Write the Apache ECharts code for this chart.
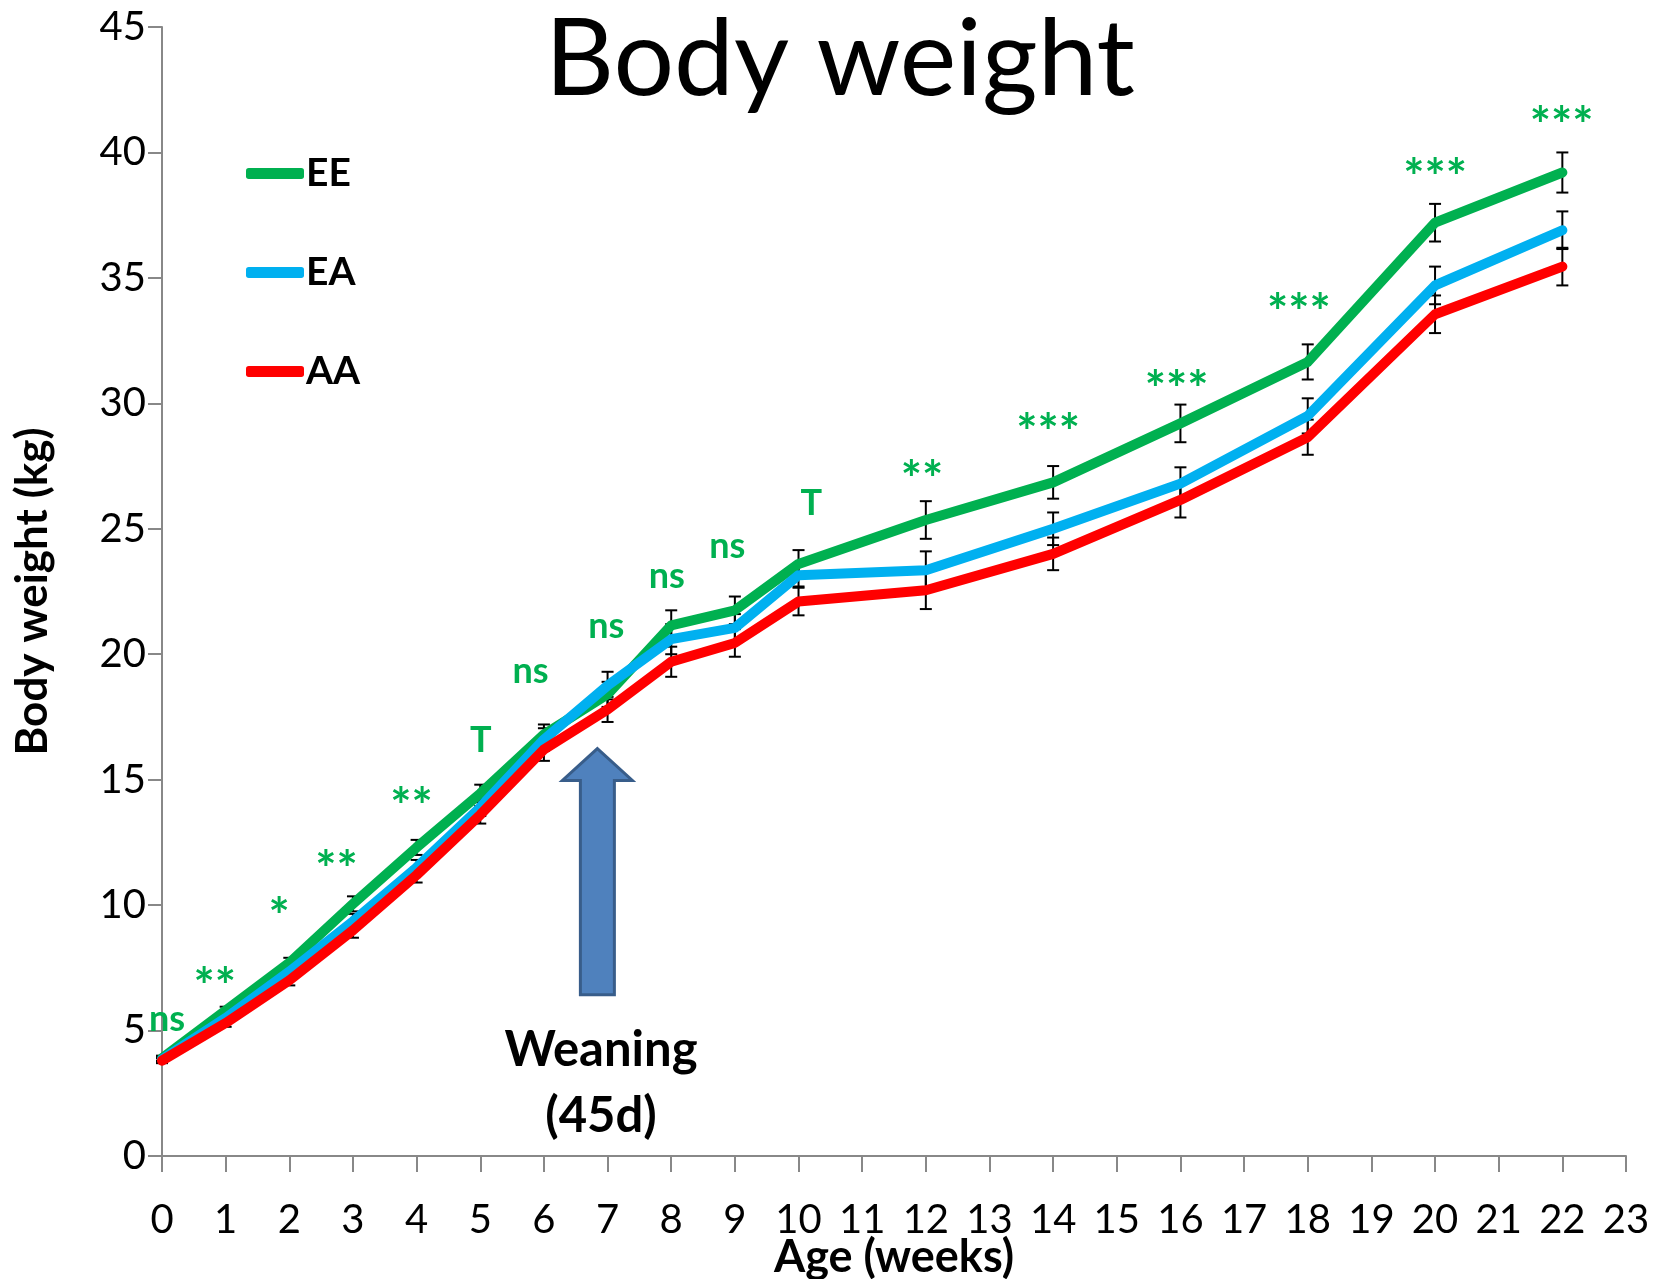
<!DOCTYPE html>
<html>
<head>
<meta charset="utf-8">
<script src="https://cdn.jsdelivr.net/npm/echarts@6/dist/echarts.min.js"></script>
<style>
  html, body { margin: 0; padding: 0; background: #fff; }
  #chart { width: 1665px; height: 1279px; }
</style>
</head>
<body>
<div id="chart"></div>
<script>
// age in weeks
const weeks = [0, 1, 2, 3, 4, 5, 6, 7, 8, 9, 10, 12, 14, 16, 18, 20, 22];

// mean body weight (kg)
const eeMean = [3.9, 5.8, 7.7, 10.05, 12.3, 14.45, 16.8, 18.4, 21.15, 21.75, 23.6, 25.35, 26.85, 29.2, 31.65, 37.2, 39.2];
const eaMean = [3.85, 5.5, 7.35, 9.35, 11.5, 13.9, 16.6, 18.75, 20.6, 21.05, 23.15, 23.35, 25.0, 26.8, 29.5, 34.7, 36.9];
const aaMean = [3.8, 5.3, 7.0, 9.0, 11.2, 13.6, 16.2, 17.8, 19.7, 20.45, 22.1, 22.55, 24.0, 26.15, 28.65, 33.55, 35.45];

// standard errors
const eeErr = [0.1, 0.15, 0.2, 0.3, 0.3, 0.35, 0.4, 0.5, 0.6, 0.55, 0.55, 0.75, 0.65, 0.75, 0.7, 0.75, 0.8];
const eaErr = [0.1, 0.15, 0.2, 0.3, 0.3, 0.35, 0.45, 0.55, 0.6, 0.55, 0.45, 0.75, 0.65, 0.65, 0.7, 0.75, 0.75];
const aaErr = [0.1, 0.15, 0.2, 0.3, 0.3, 0.35, 0.45, 0.5, 0.6, 0.55, 0.55, 0.75, 0.65, 0.7, 0.7, 0.75, 0.75];

// significance marks (x, y in data units, text)
const sigX = [0.08, 0.83, 1.84, 2.74, 3.92, 5.01, 5.79, 6.98, 7.93, 8.88, 10.2, 11.94, 13.92, 15.94, 17.86, 20.0, 21.99];
const sigY = [5.46, 7.23, 10.03, 11.89, 14.42, 16.58, 19.33, 21.11, 23.1, 24.28, 26.0, 27.45, 29.31, 31.05, 34.1, 39.5, 41.54];
const sigText = ['ns', '**', '*', '**', '**', 'T', 'ns', 'ns', 'ns', 'ns', 'T', '**', '***', '***', '***', '***', '***'];

// weaning arrow (data units)
const arrowX = 6.84, arrowTip = 16.24, arrowShoulder = 14.97, arrowBase = 6.43;

const FONT = 'Lato, "Open Sans", sans-serif';
const colors = { EE: '#00B050', EA: '#00B0F0', AA: '#FF0000' };

function lineSeries(name, mean) {
  return {
    name: name,
    type: 'line',
    data: weeks.map((w, i) => [w, mean[i]]),
    symbol: 'none',
    z: 3,
    lineStyle: { color: colors[name], width: 10, cap: 'round', join: 'round' },
    itemStyle: { color: colors[name] }
  };
}

function errorSeries(mean, err) {
  return {
    type: 'custom',
    z: 2,
    silent: true,
    data: weeks.map((w, i) => [w, mean[i] - err[i], mean[i] + err[i]]),
    renderItem: function (params, api) {
      const lo = api.coord([api.value(0), api.value(1)]);
      const hi = api.coord([api.value(0), api.value(2)]);
      const hw = 6;
      const st = { stroke: '#000', lineWidth: 2 };
      return {
        type: 'group',
        children: [
          { type: 'line', shape: { x1: lo[0], y1: lo[1], x2: hi[0], y2: hi[1] }, style: st },
          { type: 'line', shape: { x1: lo[0] - hw, y1: lo[1], x2: lo[0] + hw, y2: lo[1] }, style: st },
          { type: 'line', shape: { x1: hi[0] - hw, y1: hi[1], x2: hi[0] + hw, y2: hi[1] }, style: st }
        ]
      };
    }
  };
}

const chart = echarts.init(document.getElementById('chart'));

chart.setOption({
  animation: false,
  backgroundColor: '#fff',
  title: {
    text: 'Body weight',
    left: 835,
    top: 2,
    textAlign: 'center',
    textStyle: { fontFamily: FONT, fontWeight: 'normal', fontSize: 107, color: '#000' }
  },
  legend: {
    orient: 'vertical',
    left: 241,
    top: 149,
    itemGap: 60,
    itemWidth: 58,
    itemHeight: 11,
    icon: 'roundRect',
    data: ['EE', 'EA', 'AA'],
    textStyle: { fontFamily: FONT, fontWeight: 'bold', fontSize: 39, color: '#000', padding: [0, 0, 0, -3] }
  },
  grid: { left: 162, right: 39, top: 27, bottom: 123, outerBoundsMode: 'none', containLabel: false },
  xAxis: {
    type: 'value',
    min: 0,
    max: 23,
    interval: 1,
    name: 'Age (weeks)',
    nameLocation: 'middle',
    nameGap: 79,
    nameMoveOverlap: false,
    nameTextStyle: { fontFamily: FONT, fontWeight: 'bold', fontSize: 45, color: '#000' },
    axisLine: { lineStyle: { color: '#888', width: 2 } },
    axisTick: { length: 16, lineStyle: { color: '#888', width: 2 } },
    axisLabel: { margin: 44, fontFamily: FONT, fontSize: 40, color: '#000' },
    splitLine: { show: false }
  },
  yAxis: {
    type: 'value',
    min: 0,
    max: 45,
    interval: 5,
    name: 'Body weight (kg)',
    nameLocation: 'middle',
    nameGap: 107,
    nameMoveOverlap: false,
    nameTextStyle: { fontFamily: FONT, fontWeight: 'bold', fontSize: 44, color: '#000' },
    axisLine: { show: true, lineStyle: { color: '#888', width: 2 } },
    axisTick: { show: true, length: 14, lineStyle: { color: '#888', width: 2 } },
    axisLabel: { margin: 16, fontFamily: FONT, fontSize: 40, color: '#000' },
    splitLine: { show: false }
  },
  series: [
    errorSeries(eeMean, eeErr),
    errorSeries(eaMean, eaErr),
    errorSeries(aaMean, aaErr),
    lineSeries('EE', eeMean),
    lineSeries('EA', eaMean),
    lineSeries('AA', aaMean),
    {
      type: 'custom',
      silent: true,
      z: 4,
      data: sigX.map((x, i) => [x, sigY[i], sigText[i]]),
      renderItem: function (params, api) {
        const p = api.coord([api.value(0), api.value(1)]);
        const txt = sigText[params.dataIndex];
        const star = txt.charAt(0) === '*';
        const size = star ? 50 : 36;
        return {
          type: 'text',
          x: p[0],
          y: p[1] + (star ? size * 0.27 : 0),
          style: {
            text: txt,
            fontFamily: FONT,
            fontWeight: 'bold',
            fontSize: size,
            fill: '#00B050',
            align: 'center',
            verticalAlign: 'middle'
          }
        };
      }
    }
  ]
});

// weaning arrow + label, placed through the grid's coordinate system
const tip = chart.convertToPixel({ gridIndex: 0 }, [arrowX, arrowTip]);
const sh = chart.convertToPixel({ gridIndex: 0 }, [arrowX, arrowShoulder]);
const base = chart.convertToPixel({ gridIndex: 0 }, [arrowX, arrowBase]);
const headW = 35, shaftW = 17;

chart.setOption({
  graphic: [
    {
      type: 'polygon',
      z: 5,
      shape: {
        points: [
          [tip[0], tip[1]],
          [tip[0] + headW, sh[1]],
          [tip[0] + shaftW, sh[1]],
          [tip[0] + shaftW, base[1]],
          [tip[0] - shaftW, base[1]],
          [tip[0] - shaftW, sh[1]],
          [tip[0] - headW, sh[1]]
        ]
      },
      style: { fill: '#4F81BD', stroke: '#385D8A', lineWidth: 3 }
    },
    {
      type: 'text',
      z: 5,
      x: 601,
      y: 1083,
      style: {
        text: 'Weaning\n(45d)',
        fontFamily: FONT,
        fontWeight: 'bold',
        fontSize: 49,
        lineHeight: 66,
        fill: '#000',
        align: 'center',
        verticalAlign: 'middle'
      }
    }
  ]
});
</script>
</body>
</html>
